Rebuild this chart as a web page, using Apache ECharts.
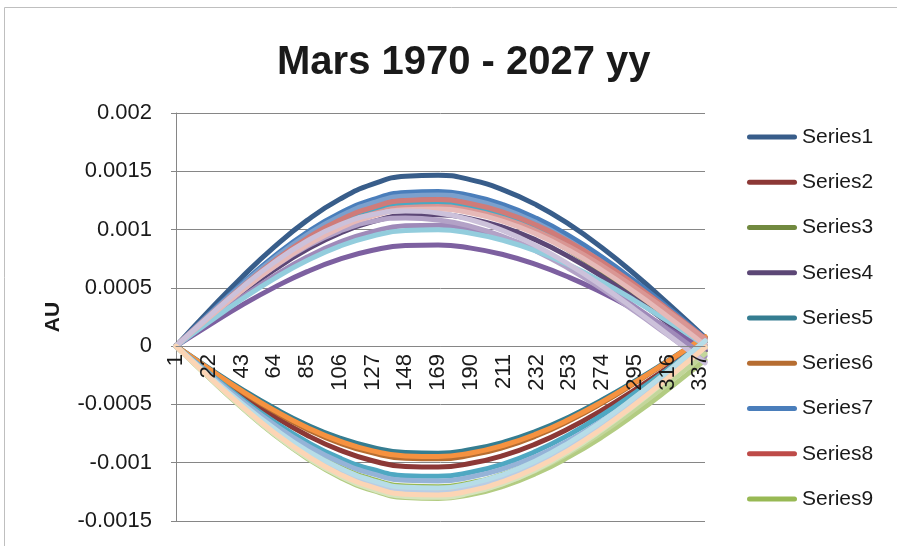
<!DOCTYPE html>
<html>
<head>
<meta charset="utf-8">
<script src="https://cdn.jsdelivr.net/npm/echarts@6/dist/echarts.min.js"></script>
<style>html,body{margin:0;padding:0;background:#fff}#chart{width:897px;height:546px}</style>
</head>
<body>
<div id="chart"></div>
<script>
// Category axis: day index 1..340 (Excel row numbers)
const categories = Array.from({length: 340}, (_, i) => String(i + 1));
const sampleDays = ['1','22','43','64','85','106','127','148','169','190','211','232','253','274','295','316','337','340'];

// Values (AU) at sampleDays
const series1  = [0, 0.000301, 0.000589, 0.000852, 0.001079, 0.001261, 0.001389, 0.001458, 0.001467, 0.001426, 0.001339, 0.001211, 0.001044, 0.000844, 0.000617, 0.000370, 0.000112, 0.000075];
const series2  = [0, -0.000213, -0.000417, -0.000603, -0.000764, -0.000892, -0.000983, -0.001032, -0.001037, -0.001005, -0.000937, -0.000836, -0.000705, -0.000549, -0.000374, -0.000186, 0.000009, 0.000037];
const series3  = [0, 0.000248, 0.000485, 0.000702, 0.000889, 0.001038, 0.001143, 0.001200, 0.001207, 0.001169, 0.001090, 0.000972, 0.000820, 0.000639, 0.000435, 0.000216, -0.000011, -0.000044];
const series4  = [0, 0.000231, 0.000453, 0.000655, 0.000830, 0.000969, 0.001068, 0.001121, 0.001127, 0.001092, 0.001018, 0.000908, 0.000766, 0.000597, 0.000407, 0.000202, -0.000010, -0.000041];
const series5  = [0, -0.000188, -0.000369, -0.000533, -0.000676, -0.000789, -0.000869, -0.000913, -0.000918, -0.000887, -0.000824, -0.000729, -0.000607, -0.000462, -0.000300, -0.000127, 0.000051, 0.000076];
const series6  = [0, -0.000199, -0.000389, -0.000562, -0.000712, -0.000832, -0.000916, -0.000962, -0.000967, -0.000935, -0.000868, -0.000769, -0.000640, -0.000488, -0.000317, -0.000134, 0.000054, 0.000081];
const series7  = [0, 0.000272, 0.000533, 0.000771, 0.000977, 0.001141, 0.001257, 0.001319, 0.001327, 0.001290, 0.001212, 0.001096, 0.000945, 0.000764, 0.000558, 0.000335, 0.000102, 0.000068];
const series8  = [0, 0.000262, 0.000513, 0.000742, 0.000940, 0.001098, 0.001209, 0.001270, 0.001277, 0.001239, 0.001160, 0.001042, 0.000889, 0.000706, 0.000500, 0.000277, 0.000045, 0.000011];
const series9  = [0, -0.000248, -0.000485, -0.000702, -0.000889, -0.001038, -0.001143, -0.001200, -0.001207, -0.001171, -0.001097, -0.000985, -0.000841, -0.000668, -0.000473, -0.000262, -0.000042, -0.000011];
const series10 = [0, 0.000178, 0.000349, 0.000504, 0.000639, 0.000746, 0.000822, 0.000863, 0.000868, 0.000841, 0.000784, 0.000699, 0.000590, 0.000460, 0.000313, 0.000155, -0.000008, -0.000031];
const series11 = [0, 0.000254, 0.000497, 0.000719, 0.000911, 0.001064, 0.001172, 0.001230, 0.001237, 0.001200, 0.001124, 0.001009, 0.000861, 0.000684, 0.000484, 0.000268, 0.000043, 0.000011];
const series12 = [0, -0.000194, -0.000381, -0.000551, -0.000698, -0.000815, -0.000898, -0.000942, -0.000947, -0.000916, -0.000850, -0.000753, -0.000627, -0.000478, -0.000310, -0.000131, 0.000053, 0.000079];
const series13 = [0, 0.000266, 0.000521, 0.000754, 0.000955, 0.001115, 0.001228, 0.001289, 0.001297, 0.001259, 0.001178, 0.001058, 0.000903, 0.000717, 0.000508, 0.000281, 0.000045, 0.000011];
const series14 = [0, 0.000258, 0.000505, 0.000731, 0.000925, 0.001081, 0.001190, 0.001250, 0.001257, 0.001222, 0.001148, 0.001038, 0.000895, 0.000724, 0.000529, 0.000317, 0.000096, 0.000064];
const series15 = [0, -0.000268, -0.000525, -0.000760, -0.000962, -0.001124, -0.001238, -0.001299, -0.001307, -0.001273, -0.001200, -0.001091, -0.000948, -0.000779, -0.000585, -0.000374, -0.000151, -0.000119];
const series16 = [0, 0.000213, 0.000417, 0.000603, 0.000764, 0.000892, 0.000983, 0.001032, 0.001037, 0.001003, 0.000931, 0.000824, 0.000686, 0.000523, 0.000340, 0.000144, -0.000058, -0.000086];
const series17 = [0, -0.000229, -0.000449, -0.000649, -0.000822, -0.000961, -0.001058, -0.001111, -0.001117, -0.001082, -0.001009, -0.000900, -0.000759, -0.000592, -0.000403, -0.000200, 0.000010, 0.000040];
const series18 = [0, -0.000252, -0.000493, -0.000713, -0.000903, -0.001055, -0.001162, -0.001220, -0.001227, -0.001189, -0.001108, -0.000989, -0.000834, -0.000650, -0.000443, -0.000220, 0.000011, 0.000044];
const series19 = [0, -0.000237, -0.000465, -0.000673, -0.000852, -0.000995, -0.001096, -0.001151, -0.001157, -0.001123, -0.001051, -0.000944, -0.000806, -0.000640, -0.000453, -0.000251, -0.000040, -0.000010];
const series20 = [0, 0.000246, 0.000481, 0.000696, 0.000881, 0.001029, 0.001134, 0.001190, 0.001197, 0.001164, 0.001093, 0.000988, 0.000852, 0.000689, 0.000503, 0.000302, 0.000092, 0.000061];
const series21 = [0, -0.000264, -0.000517, -0.000748, -0.000947, -0.001106, -0.001219, -0.001280, -0.001287, -0.001251, -0.001175, -0.001063, -0.000916, -0.000741, -0.000541, -0.000325, -0.000099, -0.000066];
const series22 = [0, 0.000243, 0.000474, 0.000682, 0.000856, 0.000987, 0.001070, 0.001100, 0.001083, 0.001028, 0.000938, 0.000815, 0.000664, 0.000490, 0.000299, 0.000097, -0.000107, -0.000136];
const series23 = [0, 0.000205, 0.000401, 0.000580, 0.000734, 0.000858, 0.000945, 0.000992, 0.000998, 0.000968, 0.000906, 0.000814, 0.000695, 0.000552, 0.000391, 0.000216, 0.000035, 0.000009];
const series24 = [0, -0.000256, -0.000501, -0.000725, -0.000918, -0.001072, -0.001181, -0.001240, -0.001247, -0.001210, -0.001133, -0.001018, -0.000868, -0.000690, -0.000488, -0.000271, -0.000044, -0.000011];
const series25 = [0, -0.000258, -0.000505, -0.000731, -0.000925, -0.001081, -0.001190, -0.001250, -0.001257, -0.001218, -0.001135, -0.001013, -0.000854, -0.000666, -0.000453, -0.000225, 0.000011, 0.000045];
const series26 = [0, 0.000242, 0.000473, 0.000684, 0.000866, 0.001012, 0.001115, 0.001170, 0.001177, 0.001142, 0.001069, 0.000961, 0.000820, 0.000651, 0.000461, 0.000255, 0.000041, 0.000010];
const series27 = [0, -0.000266, -0.000521, -0.000754, -0.000955, -0.001115, -0.001228, -0.001289, -0.001297, -0.001259, -0.001178, -0.001058, -0.000903, -0.000717, -0.000508, -0.000281, -0.000045, -0.000011];
const series28 = [0, 0.000256, 0.000500, 0.000719, 0.000902, 0.001041, 0.001129, 0.001160, 0.001142, 0.001084, 0.000989, 0.000859, 0.000700, 0.000517, 0.000315, 0.000103, -0.000113, -0.000144];
const series29 = [0, -0.000250, -0.000489, -0.000707, -0.000896, -0.001046, -0.001153, -0.001210, -0.001217, -0.001179, -0.001099, -0.000981, -0.000827, -0.000645, -0.000439, -0.000218, 0.000011, 0.000044];
const series30 = [0, -0.000262, -0.000513, -0.000742, -0.000940, -0.001098, -0.001209, -0.001270, -0.001277, -0.001239, -0.001160, -0.001042, -0.000889, -0.000706, -0.000500, -0.000277, -0.000045, -0.000011];

const allSeries = [series1, series2, series3, series4, series5, series6, series7, series8, series9, series10,
  series11, series12, series13, series14, series15, series16, series17, series18, series19, series20,
  series21, series22, series23, series24, series25, series26, series27, series28, series29, series30];
const seriesNames = allSeries.map((_, i) => 'Series' + (i + 1));
const legendNames = ['Series1','Series2','Series3','Series4','Series5','Series6','Series7','Series8','Series9'];

// Excel-like palette (style)
const palette = [
  '#385D8A','#8C3836','#71893F','#5C4776','#357D91','#B66D31',
  '#4A7EBB','#BE4B48','#98B954','#7D60A0','#46AAC5','#F69240',
  '#7BA0CD','#CF7B79','#B3CC82','#9F8AB9','#4FA8C2','#F9AB6B',
  '#95B3D7','#D99694','#C3D69B','#B3A2C7','#93CDDD','#FAC090',
  '#B9CDE5','#E6B9B8','#D7E4BD','#CCC1DA','#B7DDE8','#FCD5B5'
];

const FONT = "'Liberation Sans', Arial, sans-serif";
const chart = echarts.init(document.getElementById('chart'), null, {renderer: 'canvas'});
chart.setOption({
  animation: false,
  backgroundColor: '#ffffff',
  color: palette,
  graphic: [{
    type: 'rect', shape: {x: 4.5, y: 7.5, width: 1000, height: 1000},
    style: {fill: 'none', stroke: '#bfbfbf', lineWidth: 1}, silent: true
  }],
  title: {
    text: 'Mars 1970 - 2027 yy',
    left: 272, top: 38,
    textStyle: {fontFamily: FONT, fontSize: 40, fontWeight: 'bold', color: '#1a1a1a'}
  },
  legend: {
    data: legendNames,
    orient: 'vertical',
    left: 742, top: 121,
    icon: 'path://M2.5,0 L47.5,0 A2.5,2.5 0 0 1 47.5,5 L2.5,5 A2.5,2.5 0 0 1 2.5,0 Z',
    itemWidth: 50, itemHeight: 5, itemGap: 23.25,
    textStyle: {fontFamily: FONT, fontSize: 21, color: '#1a1a1a', lineHeight: 22}
  },
  grid: {left: 176, right: 192, top: 113, bottom: 25, containLabel: false, outerBoundsMode: 'none'},
  xAxis: {
    type: 'category',
    data: categories,
    boundaryGap: false,
    position: 'bottom',
    offset: -175,
    z: 10,
    axisLine: {onZero: false, lineStyle: {color: '#868686', width: 1}},
    axisTick: {show: false},
    axisLabel: {interval: 20, rotate: 90, margin: 8, fontFamily: FONT, fontSize: 22, color: '#1a1a1a'},
    splitLine: {show: false}
  },
  yAxis: {
    type: 'value',
    min: -0.0015, max: 0.002, interval: 0.0005,
    name: 'AU', nameLocation: 'middle', nameGap: 112,
    nameTextStyle: {fontFamily: FONT, fontSize: 21, fontWeight: 'bold', color: '#1a1a1a'},
    axisLine: {show: true, lineStyle: {color: '#868686', width: 1}},
    axisTick: {show: true, length: 5, lineStyle: {color: '#868686'}},
    axisLabel: {margin: 24, fontFamily: FONT, fontSize: 22, color: '#1a1a1a',
      formatter: v => String(parseFloat(v.toFixed(4)))},
    splitLine: {lineStyle: {color: '#868686', width: 1}}
  },
  series: allSeries.map((vals, i) => ({
    name: seriesNames[i],
    type: 'line',
    smooth: true,
    symbol: 'none',
    lineStyle: {width: 5, cap: 'round', join: 'round'},
    data: sampleDays.map((d, k) => [d, vals[k]])
  }))
});
</script>
</body>
</html>
